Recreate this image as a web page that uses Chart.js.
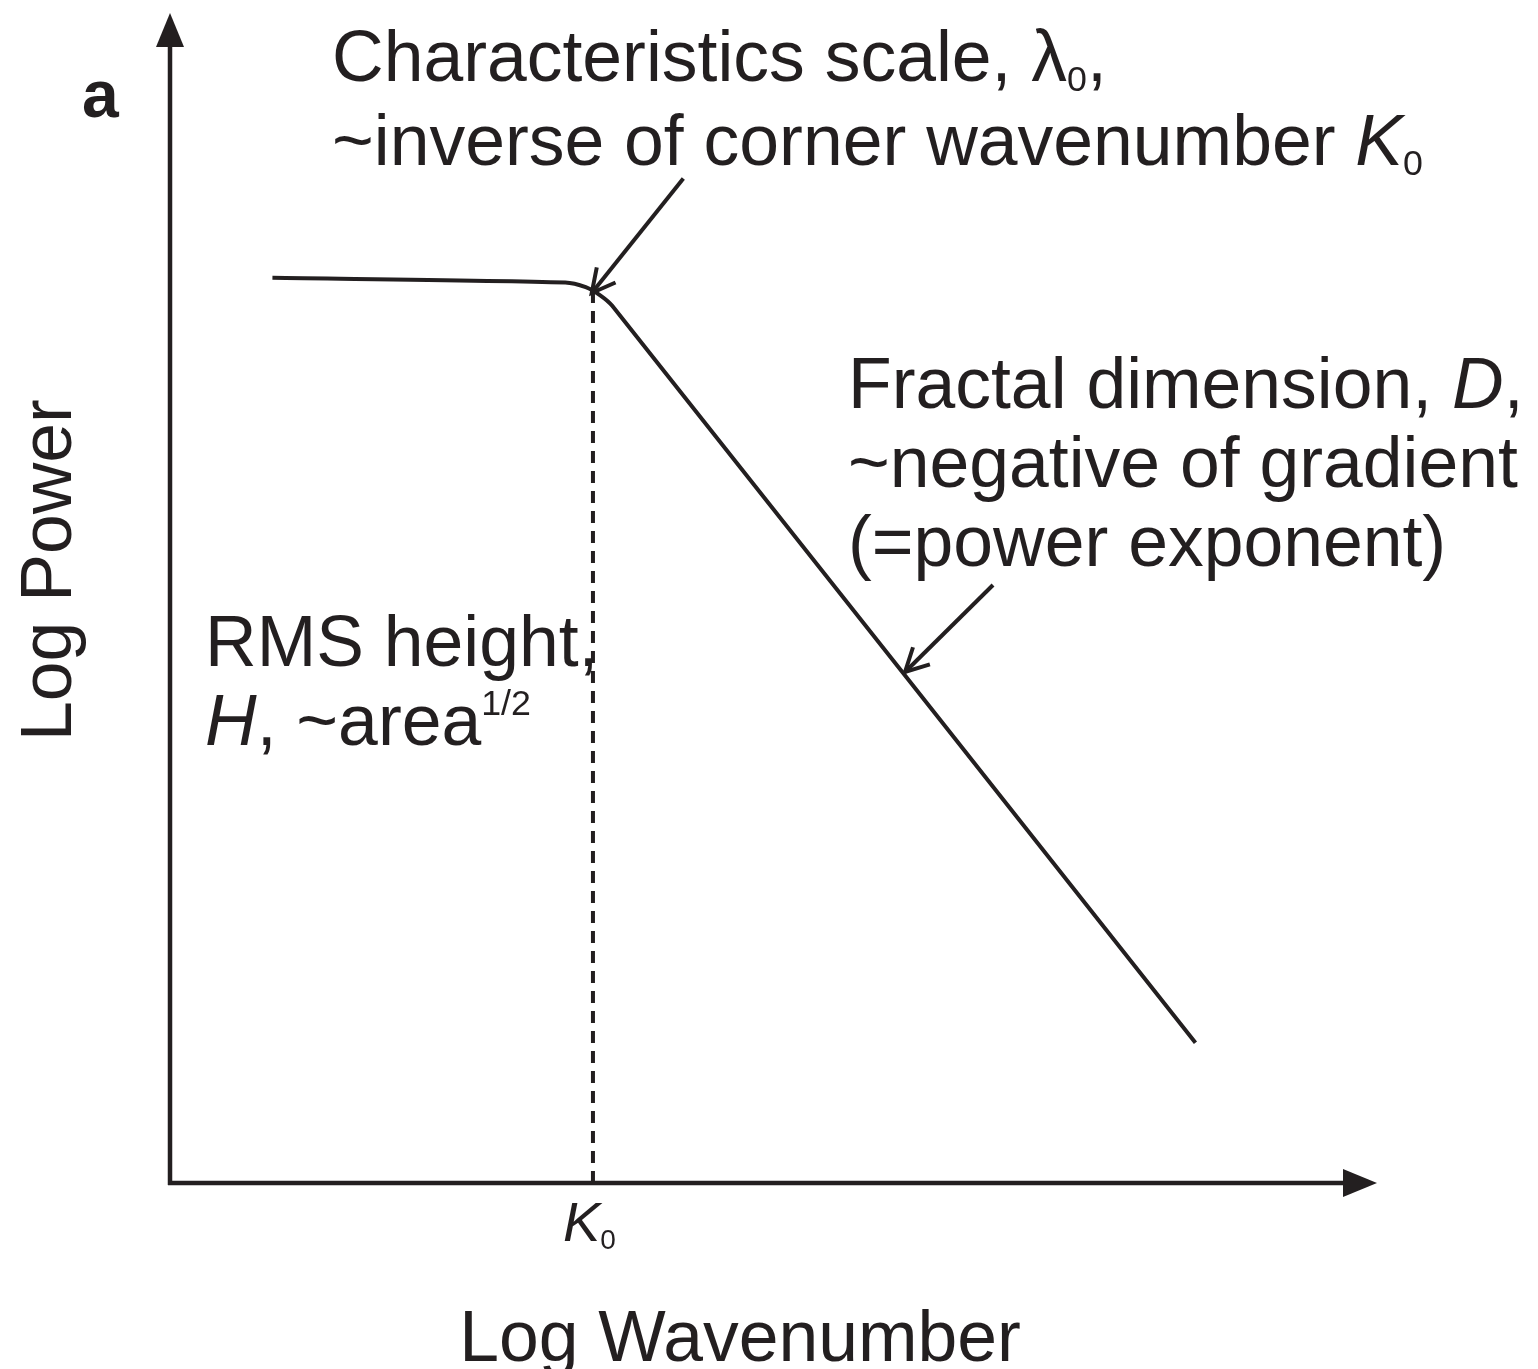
<!DOCTYPE html>
<html>
<head>
<meta charset="utf-8">
<title>Log Power vs Log Wavenumber</title>
<script src="https://cdn.jsdelivr.net/npm/chart.js@4/dist/chart.umd.min.js"></script>
<style>
  html, body { margin: 0; padding: 0; background: #fff; }
  canvas { display: block; }
</style>
</head>
<body>
<canvas id="spectrum" width="1538" height="1369"></canvas>
<script>
// spectrum curve, log units
var wavenumber = [0.85, 3.28, 3.45, 3.57, 3.67, 8.51];
var power      = [7.75, 7.71, 7.67, 7.60, 7.51, 1.20];
// corner wavenumber K0
var cornerK = 3.51;
var cornerPower = 7.62;
// annotation arrows: [tailX, tailY, tipX, tipY]
var scaleArrow   = [4.26, 8.60, 3.50, 7.62];
var gradientArrow = [6.83, 5.12, 6.10, 4.375];

var INK = '#231f20';
var FONT = '"Liberation Sans", Arial, Helvetica, sans-serif';

var curvePoints = wavenumber.map(function(k, i) { return { x: k, y: power[i] }; });
var cornerLine = [{ x: cornerK, y: 0 }, { x: cornerK, y: cornerPower }];

// draws one line of mixed text: runs of [text, kind]
function drawRuns(ctx, x, y, size, runs) {
    runs.forEach(function(r) {
        var text = r[0], kind = r[1] || '';
        var fs = size, dy = 0, italic = false;
        if (kind.indexOf('i') >= 0) italic = true;
        if (kind.indexOf('sub') >= 0) { fs = size * 0.5; dy = size * 0.14; }
        if (kind.indexOf('sup') >= 0) { fs = size * 0.5; dy = -size * 0.42; }
        ctx.font = (italic ? 'italic ' : '') + fs + 'px ' + FONT;
        ctx.fillText(text, x, y + dy);
        x += ctx.measureText(text).width;
    });
}

function arrowHead(ctx, fx, fy, tx, ty, len, spread) {
    var a = Math.atan2(ty - fy, tx - fx);
    ctx.beginPath();
    ctx.moveTo(tx - len * Math.cos(a - spread), ty - len * Math.sin(a - spread));
    ctx.lineTo(tx, ty);
    ctx.lineTo(tx - len * Math.cos(a + spread), ty - len * Math.sin(a + spread));
    ctx.stroke();
}

var annotations = {
    id: 'annotations',
    afterDraw: function(chart) {
        var ctx = chart.ctx;
        var xs = chart.scales.x, ys = chart.scales.y;
        var area = chart.chartArea;
        var ox = xs.getPixelForValue(0), oy = ys.getPixelForValue(0);

        ctx.save();
        ctx.strokeStyle = INK;
        ctx.fillStyle = INK;
        ctx.lineCap = 'butt';

        // axes with filled arrowheads
        ctx.lineWidth = 4.5;
        ctx.beginPath();
        ctx.moveTo(ox, oy + 2);
        ctx.lineTo(ox, area.top + 30);
        ctx.moveTo(ox - 2, oy);
        ctx.lineTo(area.right - 30, oy);
        ctx.stroke();
        ctx.beginPath();
        ctx.moveTo(ox, area.top - 2);
        ctx.lineTo(ox - 14, area.top + 32);
        ctx.lineTo(ox + 14, area.top + 32);
        ctx.closePath();
        ctx.fill();
        ctx.beginPath();
        ctx.moveTo(area.right + 2, oy);
        ctx.lineTo(area.right - 32, oy - 14);
        ctx.lineTo(area.right - 32, oy + 14);
        ctx.closePath();
        ctx.fill();

        // pointer arrows
        ctx.lineWidth = 4;
        [scaleArrow, gradientArrow].forEach(function(a) {
            var fx = xs.getPixelForValue(a[0]), fy = ys.getPixelForValue(a[1]);
            var tx = xs.getPixelForValue(a[2]), ty = ys.getPixelForValue(a[3]);
            ctx.beginPath();
            ctx.moveTo(fx, fy);
            ctx.lineTo(tx, ty);
            ctx.stroke();
            arrowHead(ctx, fx, fy, tx, ty, 26, 0.48);
        });

        ctx.textBaseline = 'alphabetic';
        ctx.textAlign = 'left';

        // panel letter
        ctx.font = 'bold 66px ' + FONT;
        ctx.fillText('a', 82, 117);

        var S = 71.5;
        drawRuns(ctx, 332, 81, S, [['Characteristics scale, λ'], ['0', 'sub'], [',']]);
        drawRuns(ctx, 332, 165, S, [['~inverse of corner wavenumber '], ['K', 'i'], ['0', 'sub']]);

        drawRuns(ctx, 848, 408, S, [['Fractal dimension, '], ['D', 'i'], [',']]);
        drawRuns(ctx, 848, 487, S, [['~negative of gradient']]);
        drawRuns(ctx, 848, 566, S, [['(=power exponent)']]);

        drawRuns(ctx, 205, 666, S, [['RMS height,']]);
        drawRuns(ctx, 205, 745, S, [['H', 'i'], [', ~area'], ['1/2', 'sup']]);

        // tick label at the corner wavenumber
        var kx = xs.getPixelForValue(cornerK);
        drawRuns(ctx, kx - 30, 1241, 56, [['K', 'i'], ['0', 'sub']]);

        // axis titles
        ctx.font = S + 'px ' + FONT;
        ctx.textAlign = 'center';
        ctx.fillText('Log Wavenumber', 740, 1361);
        ctx.save();
        ctx.translate(71, 570);
        ctx.rotate(-Math.PI / 2);
        ctx.fillText('Log Power', 0, 0);
        ctx.restore();

        ctx.restore();
    }
};

new Chart(document.getElementById('spectrum').getContext('2d'), {
    type: 'scatter',
    data: {
        datasets: [
            {
                data: curvePoints,
                showLine: true,
                borderColor: INK,
                borderWidth: 4,
                pointRadius: 0,
                tension: 0.25,
                fill: false
            },
            {
                data: cornerLine,
                showLine: true,
                borderColor: INK,
                borderWidth: 4,
                borderDash: [12, 8],
                pointRadius: 0,
                fill: false
            }
        ]
    },
    options: {
        responsive: false,
        animation: false,
        devicePixelRatio: 1,
        layout: { padding: { left: 170, right: 163, top: 15, bottom: 186 } },
        scales: {
            x: { type: 'linear', min: 0, max: 10, display: false },
            y: { type: 'linear', min: 0, max: 10, display: false }
        },
        plugins: {
            legend: { display: false },
            tooltip: { enabled: false }
        }
    },
    plugins: [annotations]
});
</script>
</body>
</html>
